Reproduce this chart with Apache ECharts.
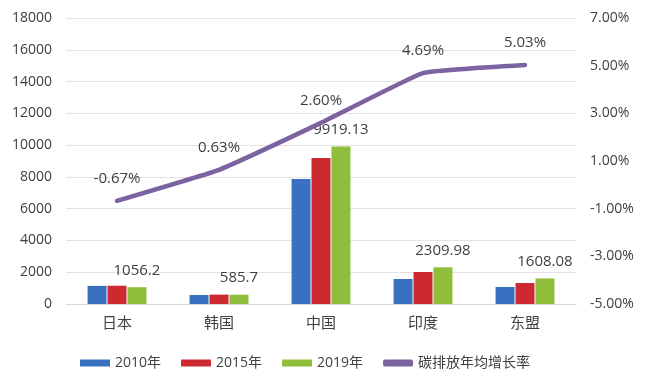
<!DOCTYPE html>
<html>
<head>
<meta charset="utf-8">
<script src="https://cdn.jsdelivr.net/npm/echarts@6/dist/echarts.min.js"></script>
<style>html,body{margin:0;padding:0;background:#fff}#c{width:646px;height:387px}</style>
</head>
<body>
<div id="c"></div>
<script>
var categories = ['日本', '韩国', '中国', '印度', '东盟'];
var s2010 = [1140, 565, 7870, 1575, 1070];
var s2015 = [1150, 590, 9190, 2015, 1320];
var s2019 = [1056.2, 585.7, 9919.13, 2309.98, 1608.08];
var growth = [-0.67, 0.63, 2.60, 4.69, 5.03];
var leftTicks = {min: 0, max: 18000, interval: 2000};
var rightTicks = {min: -5, max: 7, interval: 2};

var font = '"Open Sans", "Noto Sans CJK SC", sans-serif';
var chart = echarts.init(document.getElementById('c'));
var barCommon = {type: 'bar', barWidth: 19, barGap: '5%'};
chart.setOption({
  animation: false,
  textStyle: {fontFamily: font},
  grid: {left: 66, right: 70, top: 18, bottom: 83},
  legend: {
    bottom: 12, left: 75, itemGap: 20, itemWidth: 30, itemHeight: 7,
    textStyle: {fontSize: 14, color: '#404040', fontFamily: font},
    data: [
      {name: '2010年', icon: 'rect'},
      {name: '2015年', icon: 'rect'},
      {name: '2019年', icon: 'rect'},
      {name: '碳排放年均增长率', icon: 'roundRect'}
    ]
  },
  xAxis: {
    type: 'category', data: categories,
    axisLine: {lineStyle: {color: '#d9d9d9'}},
    axisTick: {show: false},
    axisLabel: {fontSize: 15, color: '#404040', margin: 12}
  },
  yAxis: [
    {
      type: 'value', min: leftTicks.min, max: leftTicks.max, interval: leftTicks.interval,
      axisLine: {show: false}, axisTick: {show: false},
      axisLabel: {fontSize: 14, color: '#404040', margin: 14, formatter: function (v) { return String(v); }},
      splitLine: {lineStyle: {color: '#e3e3e3'}}
    },
    {
      type: 'value', min: rightTicks.min, max: rightTicks.max, interval: rightTicks.interval,
      axisLine: {show: false}, axisTick: {show: false},
      axisLabel: {fontSize: 14, color: '#404040', margin: 14, formatter: function (v) { return v.toFixed(2) + '%'; }},
      splitLine: {show: false}
    }
  ],
  series: [
    Object.assign({name: '2010年', data: s2010, itemStyle: {color: '#3a70c0'}}, barCommon),
    Object.assign({name: '2015年', data: s2015, itemStyle: {color: '#cc2a30'}}, barCommon),
    Object.assign({name: '2019年', data: s2019, itemStyle: {color: '#8fbd3c'},
      label: {show: true, position: 'top', distance: 9, fontSize: 15, color: '#404040'}}, barCommon),
    {
      name: '碳排放年均增长率', type: 'line', yAxisIndex: 1, data: growth,
      smooth: 0.1, symbol: 'circle', symbolSize: 1, showSymbol: true,
      lineStyle: {color: '#7b62a0', width: 4.5, cap: 'round'},
      itemStyle: {color: '#7b62a0'},
      label: {show: true, position: 'top', distance: 14, fontSize: 15, color: '#404040',
        formatter: function (p) { return p.value.toFixed(2) + '%'; }}
    }
  ]
});
</script>
</body>
</html>
